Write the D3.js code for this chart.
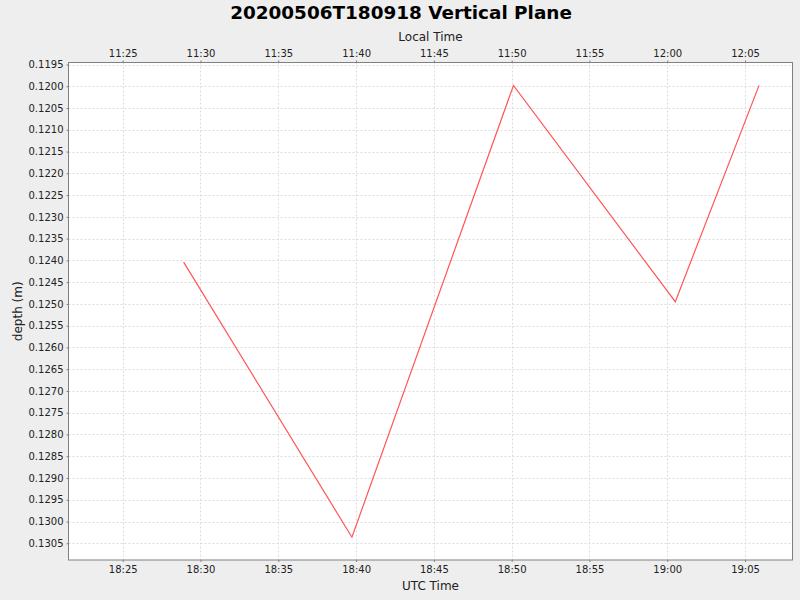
<!DOCTYPE html>
<html><head><meta charset="utf-8">
<script src="https://cdn.jsdelivr.net/npm/d3@7"></script>
<style>
html,body{margin:0;padding:0;background:#eeeeee;}
svg{display:block;font-family:"DejaVu Sans",sans-serif;}
</style></head>
<body>
<svg id="chart" width="800" height="600"></svg>
<script>
// Data (UTC times, depth in metres)
const times = ["2020-05-06T18:28:55Z","2020-05-06T18:39:44Z","2020-05-06T18:50:07Z","2020-05-06T19:00:31Z","2020-05-06T19:05:54Z"];
const depths = [0.12404, 0.13036, 0.11998, 0.12495, 0.11998];
const yTicks = [0.1195,0.1200,0.1205,0.1210,0.1215,0.1220,0.1225,0.1230,0.1235,0.1240,0.1245,0.1250,0.1255,0.1260,0.1265,0.1270,0.1275,0.1280,0.1285,0.1290,0.1295,0.1300,0.1305];
const xDomain = ["2020-05-06T18:21:31Z","2020-05-06T19:08:03Z"];
const yDomain = [0.119454, 0.130884];
const localOffsetHours = -7;
const title = "20200506T180918 Vertical Plane";

const svg = d3.select("#chart");
const L = 68.5, R = 792.5, T = 62.5, B = 560;

const x = d3.scaleUtc().domain(xDomain.map(d => new Date(d))).range([L, R]);
const y = d3.scaleLinear().domain(yDomain).range([T, B]);

svg.append("rect").attr("width",800).attr("height",600).attr("fill","#eeeeee");
svg.append("rect").attr("x",L).attr("y",T).attr("width",R-L).attr("height",B-T).attr("fill","#ffffff");

const xTickVals = x.ticks(d3.utcMinute.every(5));
const fmt = d3.utcFormat("%H:%M");
const localFmt = d => fmt(new Date(d.getTime() + localOffsetHours*3600000));

// grid
const grid = svg.append("g").attr("stroke","#dcdcdc").attr("stroke-width",1).attr("stroke-dasharray","2,2").attr("fill","none");
xTickVals.forEach(t => {
  const px = Math.round(x(t)) + 0.5;
  grid.append("line").attr("x1",px).attr("x2",px).attr("y1",T).attr("y2",B);
});
yTicks.forEach(v => {
  const py = Math.round(y(v)) + 0.5;
  grid.append("line").attr("x1",L).attr("x2",R).attr("y1",py).attr("y2",py);
});

// line
const line = d3.line().x((d,i) => x(new Date(times[i]))).y(d => y(d));
svg.append("path").datum(depths).attr("d",line).attr("fill","none").attr("stroke","#ff5555").attr("stroke-width",1.2);

// axes
const axisStyle = g => {
  g.select(".domain").remove();
  g.selectAll(".tick line").attr("stroke","#808080");
  g.selectAll(".tick text").attr("fill","#222222").style("font-family","'DejaVu Sans',sans-serif").style("font-size","10px");
};
svg.append("g").attr("transform",`translate(0,${B})`)
  .call(d3.axisBottom(x).tickValues(xTickVals).tickFormat(fmt).tickSize(2).tickPadding(4))
  .call(axisStyle);
svg.append("g").attr("transform",`translate(0,${T})`)
  .call(d3.axisTop(x).tickValues(xTickVals).tickFormat(localFmt).tickSize(2).tickPadding(4))
  .call(axisStyle);
svg.append("g").attr("transform",`translate(${L},0)`)
  .call(d3.axisLeft(y).tickValues(yTicks).tickFormat(d3.format(".4f")).tickSize(2).tickPadding(3))
  .call(axisStyle);

// plot outline
svg.append("rect").attr("x",L).attr("y",T).attr("width",R-L).attr("height",B-T).attr("fill","none").attr("stroke","#808080").attr("stroke-width",1);

// texts
svg.append("text").attr("x",401).attr("y",19).attr("text-anchor","middle")
  .style("font-size","18.4px").style("font-weight","bold").attr("fill","#000").text(title);
svg.append("text").attr("x",(L+R)/2).attr("y",41).attr("text-anchor","middle")
  .style("font-size","12px").attr("fill","#222").text("Local Time");
svg.append("text").attr("x",(L+R)/2).attr("y",590).attr("text-anchor","middle")
  .style("font-size","12px").attr("fill","#222").text("UTC Time");
svg.append("text").attr("transform",`translate(22,${(T+B)/2}) rotate(-90)`).attr("text-anchor","middle")
  .style("font-size","12px").attr("fill","#222").text("depth (m)");
</script>
</body></html>
